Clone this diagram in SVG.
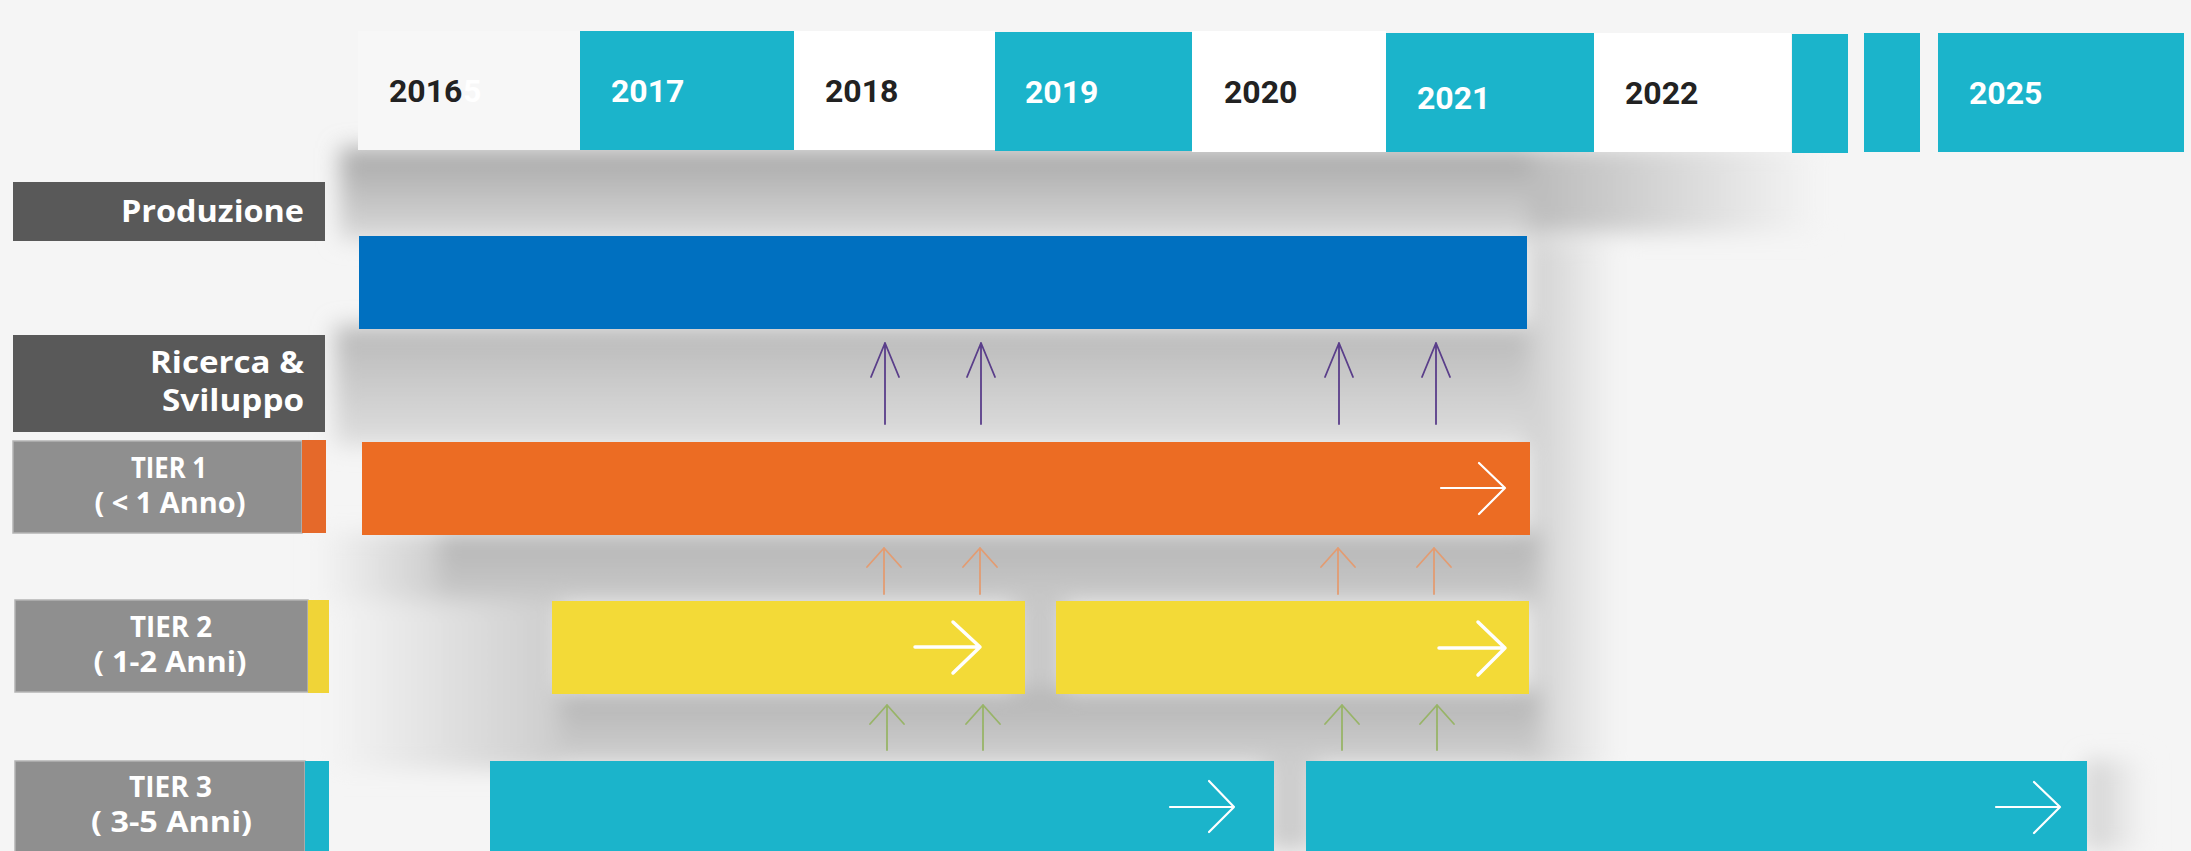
<svg xmlns="http://www.w3.org/2000/svg" width="2191" height="851" viewBox="0 0 2191 851">
<style>
.yr{font-family:Roboto,"Liberation Sans",sans-serif;font-weight:700;font-size:32px}
.dk{fill:#222222}
.wt{fill:#ffffff}
.lab{font-family:"Open Sans","Liberation Sans",sans-serif;font-weight:700;font-size:31px;fill:#ffffff}
.tier{font-family:"Open Sans","Liberation Sans",sans-serif;font-weight:700;font-size:28px;fill:#ffffff}
.teal{fill:#1BB4CB}
.white{fill:#ffffff}
.tbox{fill:#8f8f8f;stroke:#b4b4b4;stroke-width:1.5}
.dbox{fill:#595959}
.wa{fill:none;stroke:#ffffff;stroke-linecap:round;stroke-linejoin:round}
.up{fill:none;stroke-width:1.8;stroke-linecap:round;stroke-linejoin:round}
</style>
<defs>
<filter id="soft" filterUnits="userSpaceOnUse" x="0" y="0" width="2191" height="851"><feGaussianBlur stdDeviation="11"/></filter>
<linearGradient id="gHead" x1="0" y1="0" x2="0" y2="1"><stop offset="0" stop-color="#a6a6a6"/><stop offset="1" stop-color="#dadada"/></linearGradient>
<linearGradient id="gHeadR" x1="0" y1="0" x2="1" y2="0"><stop offset="0" stop-color="#bbbbbb"/><stop offset="1" stop-color="#f5f5f5"/></linearGradient>
<linearGradient id="gB1" x1="0" y1="0" x2="0" y2="1"><stop offset="0" stop-color="#b8b8b8"/><stop offset="1" stop-color="#dfdfdf"/></linearGradient>
<linearGradient id="gB2" x1="0" y1="0" x2="0" y2="1"><stop offset="0" stop-color="#b4b4b4"/><stop offset="1" stop-color="#cacaca"/></linearGradient>
<linearGradient id="gB3" x1="0" y1="0" x2="0" y2="1"><stop offset="0" stop-color="#b3b3b3"/><stop offset="1" stop-color="#d0d0d0"/></linearGradient>
<linearGradient id="gR" x1="0" y1="0" x2="1" y2="0"><stop offset="0" stop-color="#cfcfcf"/><stop offset="1" stop-color="#f5f5f5"/></linearGradient>
<linearGradient id="gL" x1="0" y1="0" x2="1" y2="0"><stop offset="0" stop-color="#f4f4f4"/><stop offset="1" stop-color="#cdcdcd"/></linearGradient>
</defs>
<rect x="0" y="0" width="2191" height="851" fill="#f5f5f5"/>
<g id="shadows" filter="url(#soft)">
<rect x="340" y="148" width="1195" height="92" fill="url(#gHead)"/>
<rect x="1530" y="148" width="290" height="85" fill="url(#gHeadR)"/>
<rect x="335" y="326" width="1215" height="120" fill="url(#gB1)"/>
<rect x="1528" y="240" width="90" height="530" fill="url(#gR)"/>
<rect x="440" y="532" width="1100" height="72" fill="url(#gB2)"/>
<rect x="320" y="532" width="120" height="72" fill="url(#gL)"/>
<rect x="1015" y="598" width="50" height="100" fill="#c8c8c8"/>
<rect x="560" y="690" width="980" height="75" fill="url(#gB3)"/>
<rect x="330" y="600" width="230" height="170" fill="url(#gL)"/>
<rect x="1265" y="755" width="50" height="96" fill="#cdcdcd"/>
<rect x="2085" y="760" width="60" height="91" fill="url(#gR)"/>
</g>
<g id="header">
<rect x="358" y="31" width="222" height="119" fill="#f7f7f7"/>
<rect class="teal" x="580" y="31" width="214" height="119"/>
<rect class="white" x="794" y="31" width="201" height="119"/>
<rect class="teal" x="995" y="32" width="197" height="119"/>
<rect class="white" x="1192" y="31" width="194" height="121"/>
<rect class="teal" x="1386" y="33" width="208" height="119"/>
<rect class="white" x="1594" y="33" width="197" height="119"/>
<rect class="teal" x="1792" y="34" width="56" height="119"/>
<rect class="teal" x="1864" y="33" width="56" height="119"/>
<rect class="teal" x="1938" y="33" width="246" height="119"/>
<text class="yr dk" x="389" y="102">2016</text>
<text class="yr wt" x="463" y="102">5</text>
<text class="yr wt" x="611" y="102">2017</text>
<text class="yr dk" x="825" y="102">2018</text>
<text class="yr wt" x="1025" y="103">2019</text>
<text class="yr dk" x="1224" y="103">2020</text>
<text class="yr wt" x="1417" y="109">2021</text>
<text class="yr dk" x="1625" y="104">2022</text>
<text class="yr wt" x="1969" y="104">2025</text>
</g>
<g id="produzione">
<rect class="dbox" x="13" y="182" width="312" height="59"/>
<text class="lab" x="304" y="222" text-anchor="end" textLength="183" lengthAdjust="spacingAndGlyphs">Produzione</text>
</g>
<g id="ricerca">
<rect class="dbox" x="13" y="335" width="312" height="97"/>
<text class="lab" x="304" y="373" text-anchor="end" textLength="154" lengthAdjust="spacingAndGlyphs">Ricerca &amp;</text>
<text class="lab" x="304" y="411" text-anchor="end" textLength="142" lengthAdjust="spacingAndGlyphs">Sviluppo</text>
</g>
<g id="tier1">
<rect class="tbox" x="13" y="441" width="289" height="92"/>
<rect x="302" y="440" width="24" height="93" fill="#E5692A"/>
<text class="tier" x="169" y="478" text-anchor="middle" textLength="76" lengthAdjust="spacingAndGlyphs">TIER 1</text>
<text class="tier" x="170" y="513" text-anchor="middle" textLength="151" lengthAdjust="spacingAndGlyphs">( &lt; 1 Anno)</text>
</g>
<g id="tier2">
<rect class="tbox" x="15" y="600" width="293" height="92"/>
<rect x="308" y="600" width="21" height="93" fill="#F0D437"/>
<text class="tier" x="171" y="637" text-anchor="middle" textLength="82" lengthAdjust="spacingAndGlyphs">TIER 2</text>
<text class="tier" x="170" y="672" text-anchor="middle" textLength="153" lengthAdjust="spacingAndGlyphs">( 1-2 Anni)</text>
</g>
<g id="tier3">
<rect class="tbox" x="15" y="761" width="290" height="100"/>
<rect x="305" y="761" width="24" height="90" fill="#1BB4CB"/>
<text class="tier" x="170.5" y="797" text-anchor="middle" textLength="83" lengthAdjust="spacingAndGlyphs">TIER 3</text>
<text class="tier" x="171.5" y="832" text-anchor="middle" textLength="161" lengthAdjust="spacingAndGlyphs">( 3-5 Anni)</text>
</g>
<g id="bar-produzione">
<rect x="359" y="236" width="1168" height="93" fill="#0070C0"/>
</g>
<g id="bar-tier1">
<rect x="362" y="442" width="1168" height="93" fill="#EC6C23"/>
<path class="wa" stroke-width="2.2" d="M1441 488H1505M1479 463L1505 488L1479 514"/>
</g>
<g id="bar-tier2a">
<rect x="552" y="601" width="473" height="93" fill="#F3DA37"/>
<path class="wa" stroke-width="3.5" d="M915 647H980M953 622L980 647L953 673"/>
</g>
<g id="bar-tier2b">
<rect x="1056" y="601" width="473" height="93" fill="#F3DA37"/>
<path class="wa" stroke-width="3.5" d="M1439 648H1505M1478 622L1505 648L1478 675"/>
</g>
<g id="bar-tier3a">
<rect x="490" y="761" width="784" height="90" fill="#1BB4CB"/>
<path class="wa" stroke-width="2.2" d="M1170 807H1234M1209 781L1234 807L1209 832"/>
</g>
<g id="bar-tier3b">
<rect x="1306" y="761" width="781" height="90" fill="#1BB4CB"/>
<path class="wa" stroke-width="2.2" d="M1996 807H2060M2034 782L2060 807L2034 833"/>
</g>
<g id="connectors">
<g class="up" stroke="#5A3E8A">
<path d="M885 424V343M871 377L885 343L899 377"/>
<path d="M981 424V343M967 377L981 343L995 377"/>
<path d="M1339 424V343M1325 377L1339 343L1353 377"/>
<path d="M1436 424V343M1422 377L1436 343L1450 377"/>
</g>
<g class="up" stroke="#E39C72">
<path d="M884 594V548M867 567L884 548L901 567"/>
<path d="M980 594V548M963 567L980 548L997 567"/>
<path d="M1338 594V548M1321 567L1338 548L1355 567"/>
<path d="M1434 594V548M1417 567L1434 548L1451 567"/>
</g>
<g class="up" stroke="#98B468">
<path d="M887 750V705M870 724L887 705L904 724"/>
<path d="M983 750V705M966 724L983 705L1000 724"/>
<path d="M1342 750V705M1325 724L1342 705L1359 724"/>
<path d="M1437 750V705M1420 724L1437 705L1454 724"/>
</g>
</g>
</svg>
